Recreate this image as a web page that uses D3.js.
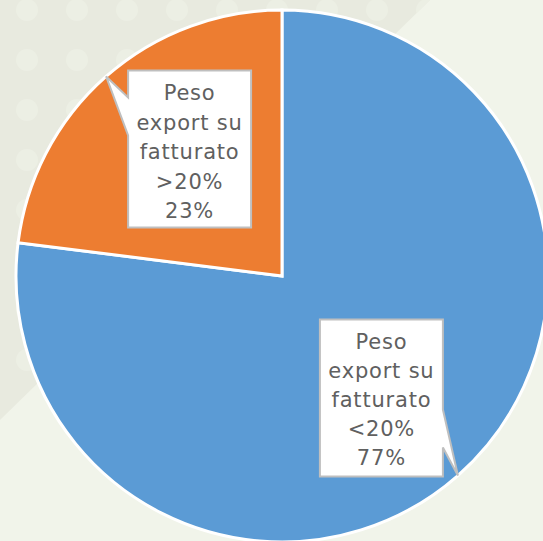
<!DOCTYPE html>
<html>
<head>
<meta charset="utf-8">
<script src="https://cdn.jsdelivr.net/npm/d3@7"></script>
<style>
  html, body { margin: 0; padding: 0; background: #f1f4ea; overflow: hidden; }
  svg { display: block; }
</style>
</head>
<body>
<div id="chart"></div>
<script>
// data
const categories = ["Peso export su fatturato <20%", "Peso export su fatturato >20%"];
const values = [77, 23];
const colors = ["#5b9bd5", "#ed7d31"];
const labelLines = [
    ["Peso", "export su", "fatturato", "<20%", "77%"],
    ["Peso", "export su", "fatturato", ">20%", "23%"]
];

(function() {
    const width = 543, height = 541;
    const cx = 282, cy = 276, radius = 266;

    const svg = d3.select("#chart").append("svg")
        .attr("width", width)
        .attr("height", height);

    // background: light base, darker diagonal band top-left with faint dots
    svg.append("rect")
        .attr("width", width).attr("height", height)
        .attr("fill", "#f1f4ea");

    const defs = svg.append("defs");
    defs.append("clipPath").attr("id", "bgclip")
        .append("path")
        .attr("d", "M0,0 L430,0 L0,420 Z");

    const bg = svg.append("g").attr("clip-path", "url(#bgclip)");
    bg.append("rect")
        .attr("width", width).attr("height", height)
        .attr("fill", "#e8eadf");

    const dots = [];
    for (let i = 0; i < 9; i++) {
        for (let j = 0; j < 9; j++) {
            dots.push([27 + i * 50, 10 + j * 50]);
        }
    }
    bg.selectAll("circle.dot")
        .data(dots)
        .enter().append("circle")
        .attr("class", "dot")
        .attr("cx", d => d[0])
        .attr("cy", d => d[1])
        .attr("r", 11)
        .attr("fill", "#ecefe4");

    // pie
    const pie = d3.pie().sort(null).value(d => d);
    const arcs = pie(values);

    const arc = d3.arc().innerRadius(0).outerRadius(radius);
    const edgeArc = d3.arc().innerRadius(radius).outerRadius(radius);

    const g = svg.append("g")
        .attr("transform", `translate(${cx},${cy})`);

    g.selectAll("path.slice")
        .data(arcs)
        .enter().append("path")
        .attr("class", "slice")
        .attr("d", arc)
        .attr("fill", (d, i) => colors[i])
        .attr("stroke", "#ffffff")
        .attr("stroke-width", 3)
        .attr("stroke-linejoin", "miter");

    // callout labels: pointer tip sits on the rim at each slice's mid angle
    const boxW = 123, boxH = 157;
    const callouts = [
        { dx: -138, dy: -156, side: "right", w1: 90, w2: 128, first: 29, step: 29 },
        { dx: 22, dy: -6, side: "left", w1: 27, w2: 65, first: 30, step: 29.5 }
    ];

    arcs.forEach(function(d, i) {
        const c = edgeArc.centroid(d);
        const tx = cx + c[0], ty = cy + c[1];
        const o = callouts[i];
        const x0 = tx + o.dx, y0 = ty + o.dy;
        const x1 = x0 + boxW, y1 = y0 + boxH;

        let p;
        if (o.side === "left") {
            p = `M${x0},${y0} L${x1},${y0} L${x1},${y1} L${x0},${y1} L${x0},${y0 + o.w2} L${tx},${ty} L${x0},${y0 + o.w1} Z`;
        } else {
            p = `M${x0},${y0} L${x1},${y0} L${x1},${y0 + o.w1} L${tx},${ty} L${x1},${y0 + o.w2} L${x1},${y1} L${x0},${y1} Z`;
        }

        svg.append("path")
            .attr("d", p)
            .attr("fill", "#ffffff")
            .attr("stroke", "#bfbfbf")
            .attr("stroke-width", 2)
            .attr("stroke-linejoin", "miter");

        const text = svg.append("text")
            .attr("text-anchor", "middle")
            .attr("font-family", "'DejaVu Sans', sans-serif")
            .attr("font-size", "21px")
            .attr("letter-spacing", "0.8px")
            .attr("fill", "#606060");

        text.selectAll("tspan")
            .data(labelLines[i])
            .enter().append("tspan")
            .attr("x", (x0 + x1) / 2)
            .attr("y", (t, k) => y0 + o.first + k * o.step)
            .text(t => t);
    });
})();
</script>
</body>
</html>
